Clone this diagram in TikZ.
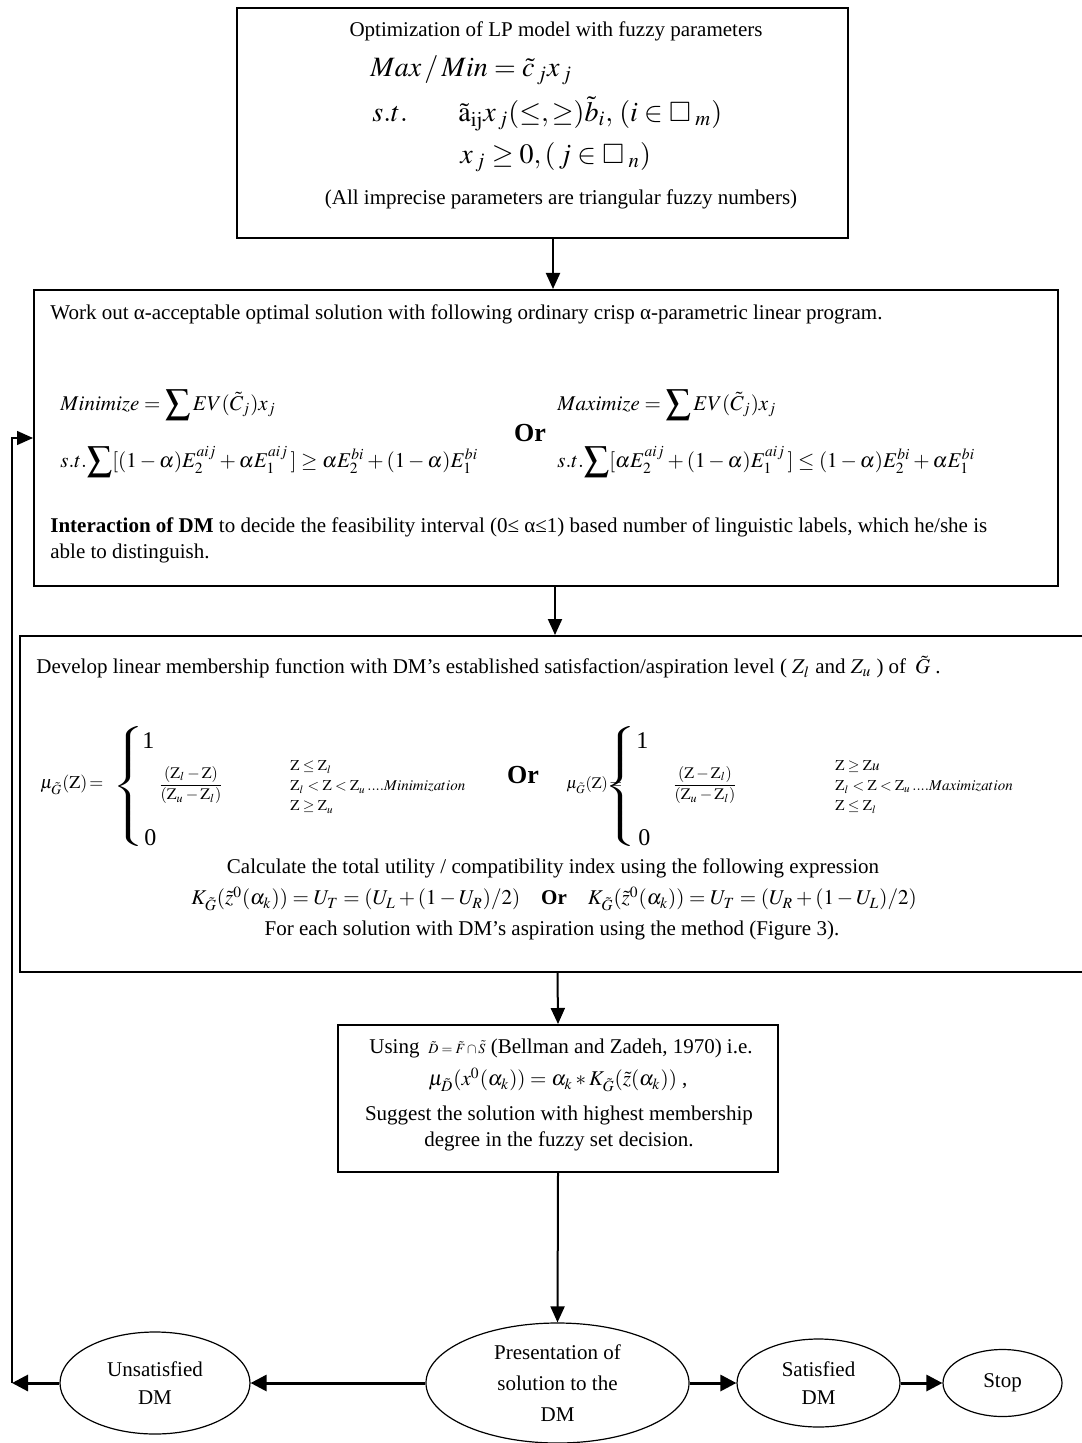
\documentclass[tikz,border=0pt]{standalone}
\usepackage{amssymb}
\usepackage{amsmath}
\usepackage{mathptmx}
\usepackage{fontspec}
\setmainfont{Liberation Serif}
\usepackage{tikz}
\usetikzlibrary{arrows.meta,shapes.geometric}
\newcommand{\Gt}{{\tilde{G}}}
\newcommand{\Zr}{\mathrm{Z}}
\newcommand{\txtsize}{\fontsize{10.5}{13}\selectfont}
\newcommand{\bigsum}{\mathop{\vcenter{\hbox{\scalebox{1.7}{$\sum$}}}}}
% widened brace, looks bolder
\newcommand{\bigbrace}{\scalebox{1.8}[1]{$\left\{\vphantom{\rule[-29pt]{0pt}{62pt}}\right.$}}
\tikzset{
  every picture/.append style={x=0.5pt,y=-0.5pt},
  procbox/.style={draw,line width=1pt,inner sep=0pt},
  oval/.style={ellipse,draw,line width=0.6pt,inner sep=0pt,align=center,font=\fontsize{10.5}{14}\selectfont},
  txt/.style={inner sep=0pt,font=\txtsize},
  cond/.style={inner sep=0pt,anchor=west,align=left,font=\fontsize{7.5}{10}\selectfont},
  flow/.style={-{Triangle[length=8pt,width=7pt]},line width=1pt},
  backflow/.style={-{Triangle[length=8pt,width=8pt]},line width=1.5pt},
}

\begin{document}
\begin{tikzpicture}
    \useasboundingbox (0,0) rectangle (1081,1443);
    % boxes
    \node[procbox,minimum width=305.5pt,minimum height=115pt] (model) at (542.5,123) {};
    \node[procbox,minimum width=512pt,minimum height=148pt] (crisp) at (546,438) {};
    \node[procbox,minimum width=537.5pt,minimum height=168pt] (memb) at (557.5,804) {};
    \node[procbox,minimum width=220pt,minimum height=73.5pt] (dec) at (558,1098.5) {};
    \node[oval,minimum width=131.5pt,minimum height=60pt,font=\fontsize{10.5}{15.5}\selectfont] (pres) at (557.5,1383) {Presentation of\\solution to the\\DM};
    \node[oval,minimum width=95pt,minimum height=51pt] (unsat) at (155,1383) {Unsatisfied\\DM};
    \node[oval,minimum width=81.5pt,minimum height=44pt] (sat) at (818.5,1383) {Satisfied\\DM};
    \node[oval,minimum width=59.5pt,minimum height=33.5pt] (stop) at (1002.5,1383) {Stop};

    \node[txt] (m1) at (556,31) {Optimization of LP model with fuzzy parameters};
    \node[anchor=west,inner sep=0pt,font=\fontsize{14}{16}\selectfont] (m2) at (370,70) {$Max\,/\,Min=\tilde{c}_{\,j}x_{\,j}$};
    \node[anchor=west,inner sep=0pt,font=\fontsize{14}{16}\selectfont] (m3) at (372,114) {$s.t.$};
    \node[anchor=west,inner sep=0pt,font=\fontsize{14}{16}\selectfont] (m4) at (458,114) {$\tilde{\mathrm{a}}_{\mathrm{ij}}x_{\,j}(\le,\ge)\tilde{b}_i,\,(i\in\square_{\;m})$};
    \node[anchor=west,inner sep=0pt,font=\fontsize{14}{16}\selectfont] (m5) at (460,157) {$x_{\,j}\ge0,(\,j\in\square_{\;n})$};
    \node[txt] (m6) at (561,199) {(All imprecise parameters are triangular fuzzy numbers)};

    \node[txt,anchor=west] (c1) at (50,314) {Work out α-acceptable optimal solution with following ordinary crisp α-parametric linear program.};
    \node[anchor=west,inner sep=0pt,font=\txtsize] (c2) at (60,405) {$Minimize=\bigsum EV(\tilde{C}_j)x_j$};
    \node[anchor=west,inner sep=0pt,font=\txtsize] (c3) at (60,462) {$s.t.\!\bigsum[(1-\alpha)E_2^{aij}+\alpha E_1^{aij}\,]\ge\alpha E_2^{bi}+(1-\alpha)E_1^{bi}$};
    \node[font=\bfseries\fontsize{13}{15}\selectfont] (c4) at (530,433) {Or};
    \node[anchor=west,inner sep=0pt,font=\txtsize] (c5) at (557,405) {$Maximize=\bigsum EV(\tilde{C}_j)x_j$};
    \node[anchor=west,inner sep=0pt,font=\txtsize] (c6) at (557,462) {$s.t.\!\bigsum[\alpha E_2^{aij}+(1-\alpha)E_1^{aij}\,]\le(1-\alpha)E_2^{bi}+\alpha E_1^{bi}$};
    \node[txt,anchor=west,align=left] (c7) at (50,540) {\textbf{Interaction of DM} to decide the feasibility interval (0≤ α≤1) based number of linguistic labels, which he/she is\\able to distinguish.};

    \node[txt,anchor=west] (d1) at (36,667) {Develop linear membership function with DM’s established satisfaction/aspiration level ( $Z_l$ and $Z_u$ ) of \,$\Gt$ .};
    \node[anchor=west,inner sep=0pt,font=\fontsize{9}{11}\selectfont] (d2) at (40,785) {$\mu_{\Gt}(\Zr)\!=$};
    \node[inner sep=0pt] (d3) at (131,787) {\bigbrace};
    \node[txt,anchor=west] (d4) at (142,741) {\fontsize{12}{14}\selectfont 1};
    \node[txt,anchor=west] (d5) at (144,838) {\fontsize{12}{14}\selectfont 0};
    \node[inner sep=0pt,font=\footnotesize] (d6) at (191,785) {$\dfrac{(\Zr_l-\Zr)}{(\Zr_u-\Zr_l)}$};
    \node[cond] (d7) at (290,787) {$\Zr\le \Zr_l$\\$\Zr_l<\Zr<\Zr_u\,....Minimization$\\$\Zr\ge \Zr_u$};
    \node[font=\bfseries\fontsize{13}{15}\selectfont] (d8) at (523,775) {Or};
    \node[anchor=west,inner sep=0pt,font=\footnotesize] (d9) at (566,785) {$\mu_{\Gt}(\Zr)\!=$};
    \node[inner sep=0pt] (d10) at (623,787) {\bigbrace};
    \node[txt,anchor=west] (d11) at (636,741) {\fontsize{12}{14}\selectfont 1};
    \node[txt,anchor=west] (d12) at (638,838) {\fontsize{12}{14}\selectfont 0};
    \node[inner sep=0pt,font=\footnotesize] (d13) at (705,785) {$\dfrac{(\Zr-\Zr_l)}{(\Zr_u-\Zr_l)}$};
    \node[cond] (d14) at (835,787) {$\Zr\ge \Zr u$\\$\Zr_l<\Zr<\Zr_u\,....Maximization$\\$\Zr\le \Zr_l$};
    \node[txt] (d15) at (553,868) {Calculate the total utility / compatibility index using the following expression};
    \node[txt] (d16) at (554,899) {$K_{\Gt}(\tilde{z}^0(\alpha_k))=U_T=(U_L+(1-U_R)/2)$\quad\textbf{Or}\quad$K_{\Gt}(\tilde{z}^0(\alpha_k))=U_T=(U_R+(1-U_L)/2)$};
    \node[txt] (d17) at (552,930) {For each solution with DM’s aspiration using the method (Figure 3).};

    \node[txt] (e1) at (561,1048) {Using \,{\scriptsize$\tilde{D}=\tilde{F}\cap\tilde{S}$} (Bellman and Zadeh, 1970) i.e.};
    \node[txt] (e2) at (558,1080) {$\mu_{\tilde{D}}(x^0(\alpha_k))=\alpha_k*K_{\Gt}(\tilde{z}(\alpha_k))$ ,};
    \node[txt,align=center] (e3) at (559,1128) {Suggest the solution with highest membership\\degree in the fuzzy set decision.};

    % connectors
    \draw[flow] (553,0 |- model.south) -- (553,0 |- crisp.north);
    \draw[flow] (555,0 |- crisp.south) -- (555,0 |- memb.north);
    \draw[flow] (memb.south) -- (dec.north);
    \draw[flow] (dec.south) -- (pres.north);
    \draw[backflow] (pres.west) -- (unsat.east);
    \draw[backflow] (pres.east) -- (sat.west);
    \draw[backflow] (sat.east) -- (stop.west);
    \coordinate (ret) at (12,1383);
    \draw[backflow] (unsat.west) -- (ret);
    \draw[flow,line width=0.7pt] (ret) |- (crisp.west);
\end{tikzpicture}
\end{document}
